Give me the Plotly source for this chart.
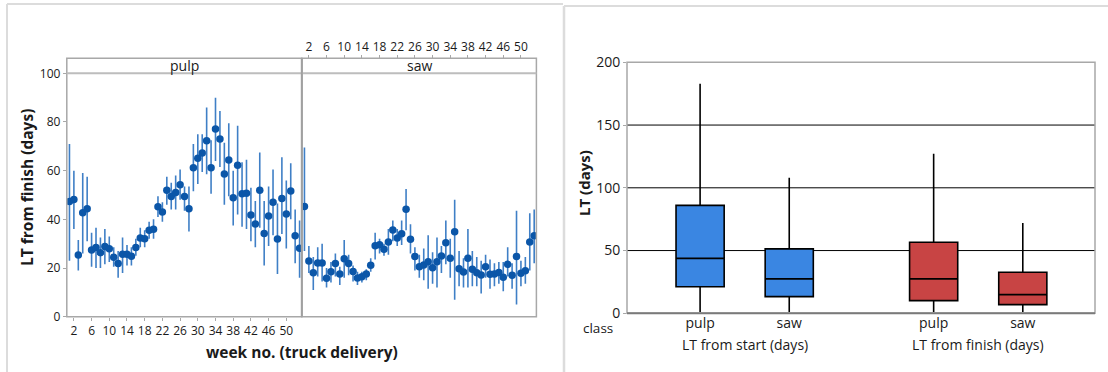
import plotly.graph_objects as go

W, H = 1108, 372
MT, MB = 10, 10

# ---- weekly lead time from finish (mean with interval), by class ----
weeks = list(range(1, 54))

pulp_mean = [47.3, 48.2, 25.3, 42.7, 44.4, 27.4, 28.4, 26.3, 28.8, 27.9,
             24.4, 21.9, 25.7, 25.7, 24.8, 28.4, 32.3, 32.0, 35.5, 35.9,
             45.2, 43.0, 52.0, 49.4, 51.0, 54.2, 49.4, 44.4, 61.2, 65.1,
             67.3, 72.3, 61.2, 77.1, 73.0, 58.6, 64.4, 48.9, 62.2, 50.5,
             50.7, 41.8, 38.1, 52.0, 34.2, 41.4, 47.0, 31.9, 48.6, 42.2,
             51.6, 33.3, 28.1]
pulp_upper = [71.0, 60.0, 31.5, 59.0, 57.5, 34.5, 36.5, 32.5, 36.0, 33.0,
              28.5, 27.0, 32.5, 29.5, 28.5, 32.0, 36.5, 35.5, 39.0, 40.0,
              49.5, 47.0, 57.5, 55.0, 58.0, 60.5, 53.5, 53.5, 71.0, 75.0,
              75.0, 86.0, 72.5, 90.0, 84.5, 71.5, 79.5, 60.0, 78.5, 63.5,
              64.5, 53.0, 47.5, 67.5, 47.5, 53.5, 60.5, 46.5, 65.5, 56.0,
              63.0, 44.0, 39.5]
pulp_lower = [23.0, 36.0, 19.0, 26.0, 31.0, 20.5, 20.0, 20.0, 21.5, 22.5,
              20.5, 16.0, 18.0, 21.0, 21.0, 25.0, 28.5, 28.5, 32.0, 32.0,
              41.0, 39.0, 46.0, 44.0, 44.0, 48.0, 43.5, 35.0, 51.5, 54.5,
              59.5, 58.5, 50.5, 64.0, 61.5, 46.0, 49.5, 37.5, 42.0, 37.0,
              36.0, 31.0, 28.5, 36.5, 21.0, 29.0, 33.5, 17.5, 34.0, 28.0,
              40.0, 22.0, 16.0]

saw_mean = [45.3, 22.9, 18.1, 22.1, 22.1, 15.8, 18.5, 21.9, 17.5, 23.8,
            21.9, 18.6, 15.9, 16.4, 17.5, 21.1, 29.2, 29.6, 27.7, 30.7,
            35.6, 32.3, 34.1, 44.1, 31.8, 24.7, 20.5, 21.2, 22.6, 20.1,
            22.6, 24.9, 30.4, 24.0, 34.9, 19.7, 18.4, 24.0, 19.5, 18.1,
            17.1, 20.5, 17.4, 17.5, 18.2, 16.2, 21.5, 17.0, 24.7, 17.8,
            18.9, 30.7, 33.3]
saw_upper = [69.5, 29.0, 24.5, 28.5, 30.0, 20.0, 22.5, 26.0, 20.5, 31.5,
             25.5, 21.0, 18.5, 18.5, 19.5, 24.0, 34.5, 32.0, 30.0, 36.0,
             39.5, 36.0, 39.5, 52.5, 38.0, 28.5, 25.5, 28.0, 33.5, 26.5,
             32.5, 29.0, 39.5, 32.0, 48.0, 27.0, 24.0, 36.0, 27.0, 24.5,
             23.0, 25.5, 23.5, 22.0, 22.5, 22.5, 28.5, 22.0, 43.5, 23.0,
             24.5, 42.5, 44.0]
saw_lower = [27.0, 18.0, 11.0, 16.5, 14.5, 12.0, 14.0, 16.5, 13.0, 16.0,
             17.0, 14.5, 13.0, 14.0, 15.0, 18.5, 23.5, 26.0, 25.0, 25.5,
             31.0, 29.0, 29.5, 35.5, 26.0, 19.0, 16.0, 15.0, 11.5, 13.5,
             12.0, 18.0, 21.5, 16.0, 7.0, 12.5, 12.0, 12.0, 12.5, 12.5,
             9.5, 16.0, 11.5, 12.5, 13.5, 10.5, 16.5, 11.5, 5.0, 12.5,
             13.5, 19.0, 22.0]

week_ticks = list(range(2, 51, 4))

# ---- lead time distributions (box summary) ----
box_classes = ["pulp", "saw", "pulp", "saw"]
box_groups = ["LT from start (days)", "LT from start (days)",
              "LT from finish (days)", "LT from finish (days)"]
box_min = [1.0, 1.0, 1.0, 1.0]
box_q1 = [21.2, 13.3, 10.1, 6.9]
box_median = [43.8, 27.4, 27.4, 14.9]
box_q3 = [86.0, 51.3, 56.6, 32.7]
box_max = [183.0, 108.0, 127.2, 72.0]
box_colors = ["#3a86e2", "#3a86e2", "#c84444", "#c84444"]
box_pos = [1.0, 2.0, 3.62, 4.62]

FONT = "Open Sans"
TXT = "#1a1a1a"
FRAME = "#a8a8a8"
MARK = "#0b56a8"
ERR = "#3f7fc6"


def px(x):
    return x / W


def py(y):
    # pixel row (from top of figure) -> paper fraction of the plotting area
    return 1 - (y - MT) / (H - MT - MB)


# panel geometry (pixels)
L_X0, L_X1, L_X2 = 66.8, 301.8, 536.4
L_TOP, L_STRIP, L_BOT = 58.3, 73.3, 316.7
R_X0, R_X1, R_TOP, R_BOT = 627.0, 1095.0, 62.3, 313.3

fig = go.Figure()


def err_trace(mean, upper, lower, xa):
    return go.Scatter(
        x=weeks, y=mean, mode="markers", xaxis=xa, yaxis="y",
        marker=dict(color=MARK, size=7.5),
        error_y=dict(type="data", symmetric=False,
                     array=[u - m for u, m in zip(upper, mean)],
                     arrayminus=[m - l for m, l in zip(mean, lower)],
                     color=ERR, thickness=1.6, width=0),
        showlegend=False, hoverinfo="skip")


fig.add_trace(err_trace(pulp_mean, pulp_upper, pulp_lower, "x"))
fig.add_trace(err_trace(saw_mean, saw_upper, saw_lower, "x2"))

for i in range(len(box_classes)):
    fig.add_trace(go.Box(
        x=[box_pos[i]], q1=[box_q1[i]], median=[box_median[i]],
        q3=[box_q3[i]], lowerfence=[box_min[i]], upperfence=[box_max[i]],
        width=0.54, whiskerwidth=0, fillcolor=box_colors[i],
        line=dict(color="black", width=1.6),
        xaxis="x3", yaxis="y3", showlegend=False, hoverinfo="skip"))

tickfont = dict(family=FONT, size=12, color=TXT)

fig.update_layout(
    width=W, height=H, margin=dict(l=0, r=0, t=MT, b=MB, autoexpand=False),
    paper_bgcolor="white", plot_bgcolor="white",
    font=dict(family=FONT, color=TXT),
    xaxis=dict(domain=[px(L_X0), px(L_X1)], range=[0.4, 53.5],
               tickvals=week_ticks, ticks="outside", ticklen=3,
               tickcolor=FRAME, tickfont=tickfont, showgrid=False,
               zeroline=False, showline=False, anchor="y"),
    xaxis2=dict(domain=[px(L_X1), px(L_X2)], range=[0.4, 53.5],
                tickvals=week_ticks, ticks="outside", ticklen=3,
                tickcolor=FRAME, tickfont=tickfont, showgrid=False,
                zeroline=False, showline=False, side="top",
                anchor="free", position=py(L_TOP)),
    yaxis=dict(domain=[py(L_BOT), py(L_STRIP)], range=[0, 100],
               tickvals=[0, 20, 40, 60, 80, 100], ticks="outside",
               ticklen=3, tickcolor=FRAME, tickfont=tickfont,
               showgrid=False, zeroline=False, showline=False),
    xaxis3=dict(domain=[px(R_X0), px(R_X1)], range=[0.18, 5.43],
                tickvals=box_pos, ticktext=box_classes, ticks="",
                tickfont=dict(family=FONT, size=14, color=TXT),
                showgrid=False, zeroline=False, showline=False,
                anchor="y3"),
    yaxis3=dict(domain=[py(R_BOT), py(R_TOP)], range=[0, 200],
                tickvals=[0, 50, 100, 150, 200], ticks="outside",
                ticklen=3, tickcolor=FRAME,
                tickfont=dict(family=FONT, size=14, color=TXT),
                showgrid=False, zeroline=False, showline=False,
                anchor="x3"),
)

shapes = []
# outer frames of the two report blocks
shapes.append(dict(type="line", xref="paper", yref="paper", x0=px(7), x1=px(563),
                   y0=py(4), y1=py(4), line=dict(color="#dcdcdc", width=2)))
shapes.append(dict(type="line", xref="paper", yref="paper", x0=px(7), x1=px(7),
                   y0=py(4), y1=py(372), line=dict(color="#dcdcdc", width=2)))
shapes.append(dict(type="line", xref="paper", yref="paper", x0=px(564), x1=px(564),
                   y0=py(6), y1=py(372), line=dict(color="#dcdcdc", width=2.5)))
shapes.append(dict(type="line", xref="paper", yref="paper", x0=px(564), x1=1,
                   y0=py(6), y1=py(6), line=dict(color="#dcdcdc", width=2)))

# left panels: frames and header strips
for xa, xb in [(L_X0, L_X1), (L_X1, L_X2)]:
    shapes.append(dict(type="rect", xref="paper", yref="paper",
                       x0=px(xa), x1=px(xb), y0=py(L_BOT), y1=py(L_TOP),
                       line=dict(color=FRAME, width=1.5)))
    shapes.append(dict(type="line", xref="paper", yref="paper",
                       x0=px(xa), x1=px(xb), y0=py(L_STRIP), y1=py(L_STRIP),
                       line=dict(color="#bdbdbd", width=2)))
shapes.append(dict(type="line", xref="paper", yref="paper",
                   x0=px(L_X1), x1=px(L_X1), y0=py(L_BOT), y1=py(L_TOP),
                   line=dict(color="#a0a0a0", width=2)))

# right panel: horizontal reference lines and frame
for v in [50, 100, 150]:
    shapes.append(dict(type="line", xref="x3 domain", yref="y3",
                       x0=0, x1=1, y0=v, y1=v,
                       line=dict(color="black", width=1), layer="below"))
shapes.append(dict(type="rect", xref="paper", yref="paper",
                   x0=px(R_X0), x1=px(R_X1), y0=py(R_BOT), y1=py(R_TOP),
                   line=dict(color=FRAME, width=1.5)))
shapes.append(dict(type="line", xref="paper", yref="paper",
                   x0=px(R_X0), x1=px(R_X1), y0=py(R_BOT), y1=py(R_BOT),
                   line=dict(color="#7a7a7a", width=2)))
fig.update_layout(shapes=shapes)

ann = []
for name, xa, xb in [("pulp", L_X0, L_X1), ("saw", L_X1, L_X2)]:
    ann.append(dict(text=name, xref="paper", yref="paper",
                    x=px((xa + xb) / 2), y=py((L_TOP + L_STRIP) / 2),
                    showarrow=False, font=dict(family=FONT, size=14, color=TXT),
                    xanchor="center", yanchor="middle"))
ann.append(dict(text="<b>week no. (truck delivery)</b>", xref="paper", yref="paper",
                x=px(302), y=py(352), showarrow=False,
                font=dict(family=FONT, size=15.5, color=TXT),
                xanchor="center", yanchor="middle"))
ann.append(dict(text="<b>LT from finish (days)</b>", xref="paper", yref="paper",
                x=px(27), y=py(188), showarrow=False, textangle=-90,
                font=dict(family=FONT, size=15.5, color=TXT),
                xanchor="center", yanchor="middle"))
ann.append(dict(text="<b>LT (days)</b>", xref="paper", yref="paper",
                x=px(584), y=py(183), showarrow=False, textangle=-90,
                font=dict(family=FONT, size=15, color=TXT),
                xanchor="center", yanchor="middle"))
ann.append(dict(text="class", xref="paper", yref="paper",
                x=px(598), y=py(328), showarrow=False,
                font=dict(family=FONT, size=13.5, color=TXT),
                xanchor="center", yanchor="middle"))
for g, pa, pb in [(box_groups[0], box_pos[0], box_pos[1]),
                  (box_groups[2], box_pos[2], box_pos[3])]:
    ann.append(dict(text=g, xref="x3", yref="paper", x=(pa + pb) / 2,
                    y=py(344), showarrow=False,
                    font=dict(family=FONT, size=14, color=TXT),
                    xanchor="center", yanchor="middle"))
fig.update_layout(annotations=ann)

fig.write_html("out.html")
